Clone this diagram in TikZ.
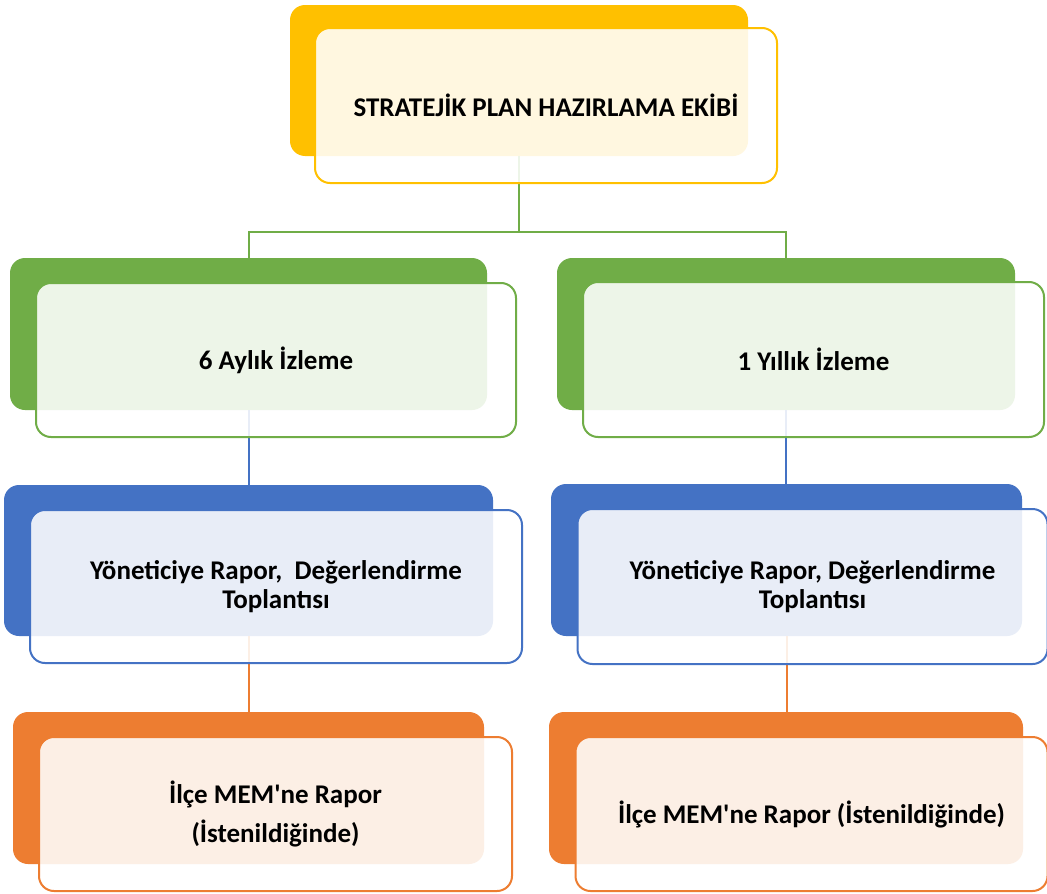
\documentclass[tikz,border=0pt]{standalone}
\usepackage{fontspec}
\setmainfont{Carlito}
\definecolor{cgold}{HTML}{FFC000}
\definecolor{cgreen}{HTML}{70AD47}
\definecolor{cblue}{HTML}{4472C4}
\definecolor{corange}{HTML}{ED7D31}
\begin{document}
\begin{tikzpicture}[x=1pt,y=-1pt,
  back/.style={fill=#1, draw=none, rounded corners=15pt, inner sep=0pt, outer sep=0pt},
  front/.style={fill=white, fill opacity=0.88, text opacity=1, draw=#1, line width=2pt,
    rounded corners=15pt, align=center, inner sep=0pt, outer sep=0pt,
    font=\bfseries\fontsize{27}{29.5}\selectfont},
  link/.style={draw=#1, line width=2pt}]
\useasboundingbox[fill=white] (0,0) rectangle (1047,894);

% back boxes
\node[back=cgold,   minimum width=458pt, minimum height=151pt] (tb)  at (519,80.5) {};
\node[back=cgreen,  minimum width=477pt, minimum height=152pt] (glb) at (248.5,334) {};
\node[back=cgreen,  minimum width=458pt, minimum height=152pt] (grb) at (786,334) {};
\node[back=cblue,   minimum width=489pt, minimum height=151pt] (blb) at (248.5,560.5) {};
\node[back=cblue,   minimum width=471pt, minimum height=152pt] (brb) at (786.5,560) {};
\node[back=corange, minimum width=471pt, minimum height=152pt] (olb) at (248.5,788) {};
\node[back=corange, minimum width=474pt, minimum height=152pt] (orb) at (786,788) {};

% connectors
\coordinate (j) at (519,232);
\draw[link=cgreen] (tb.south) -- (tb.south |- j) -| (glb.north);
\draw[link=cgreen] (tb.south |- j) -| (grb.north);
\draw[link=cblue] (glb.south) -- (glb.south |- blb.north);
\draw[link=cblue] (grb.south) -- (grb.south |- brb.north);
\draw[link=corange] (blb.south) -- (blb.south |- olb.north);
\draw[link=corange] (brb.south) -- (brb.south |- orb.north);

% front boxes
\node[front=cgold, minimum width=462pt, minimum height=155pt] (tf) at (546,105.5)
  {STRATEJİK PLAN HAZIRLAMA EKİBİ};
\node[front=cgreen, minimum width=480pt, minimum height=154pt] (glf) at (276,360)
  {6 Aylık İzleme};
\node[front=cgreen, minimum width=461pt, minimum height=155pt] (grf) at (813.5,359.5)
  {1 Yıllık İzleme};
\node[front=cblue, minimum width=492pt, minimum height=153pt] (blf) at (276,586.5)
  {Yöneticiye Rapor,\ \ Değerlendirme\\Toplantısı};
\node[front=cblue, minimum width=470pt, minimum height=155pt] (brf) at (812.5,586.5)
  {Yöneticiye Rapor, Değerlendirme\\Toplantısı};
\node[front=corange, minimum width=473pt, minimum height=154pt] (olf) at (275.5,814)
  {İlçe MEM\textquotesingle ne Rapor\\[10pt](İstenildiğinde)};
\node[front=corange, minimum width=472pt, minimum height=154pt] (orf) at (811.5,814)
  {İlçe MEM\textquotesingle ne Rapor (İstenildiğinde)};
\end{tikzpicture}
\end{document}
